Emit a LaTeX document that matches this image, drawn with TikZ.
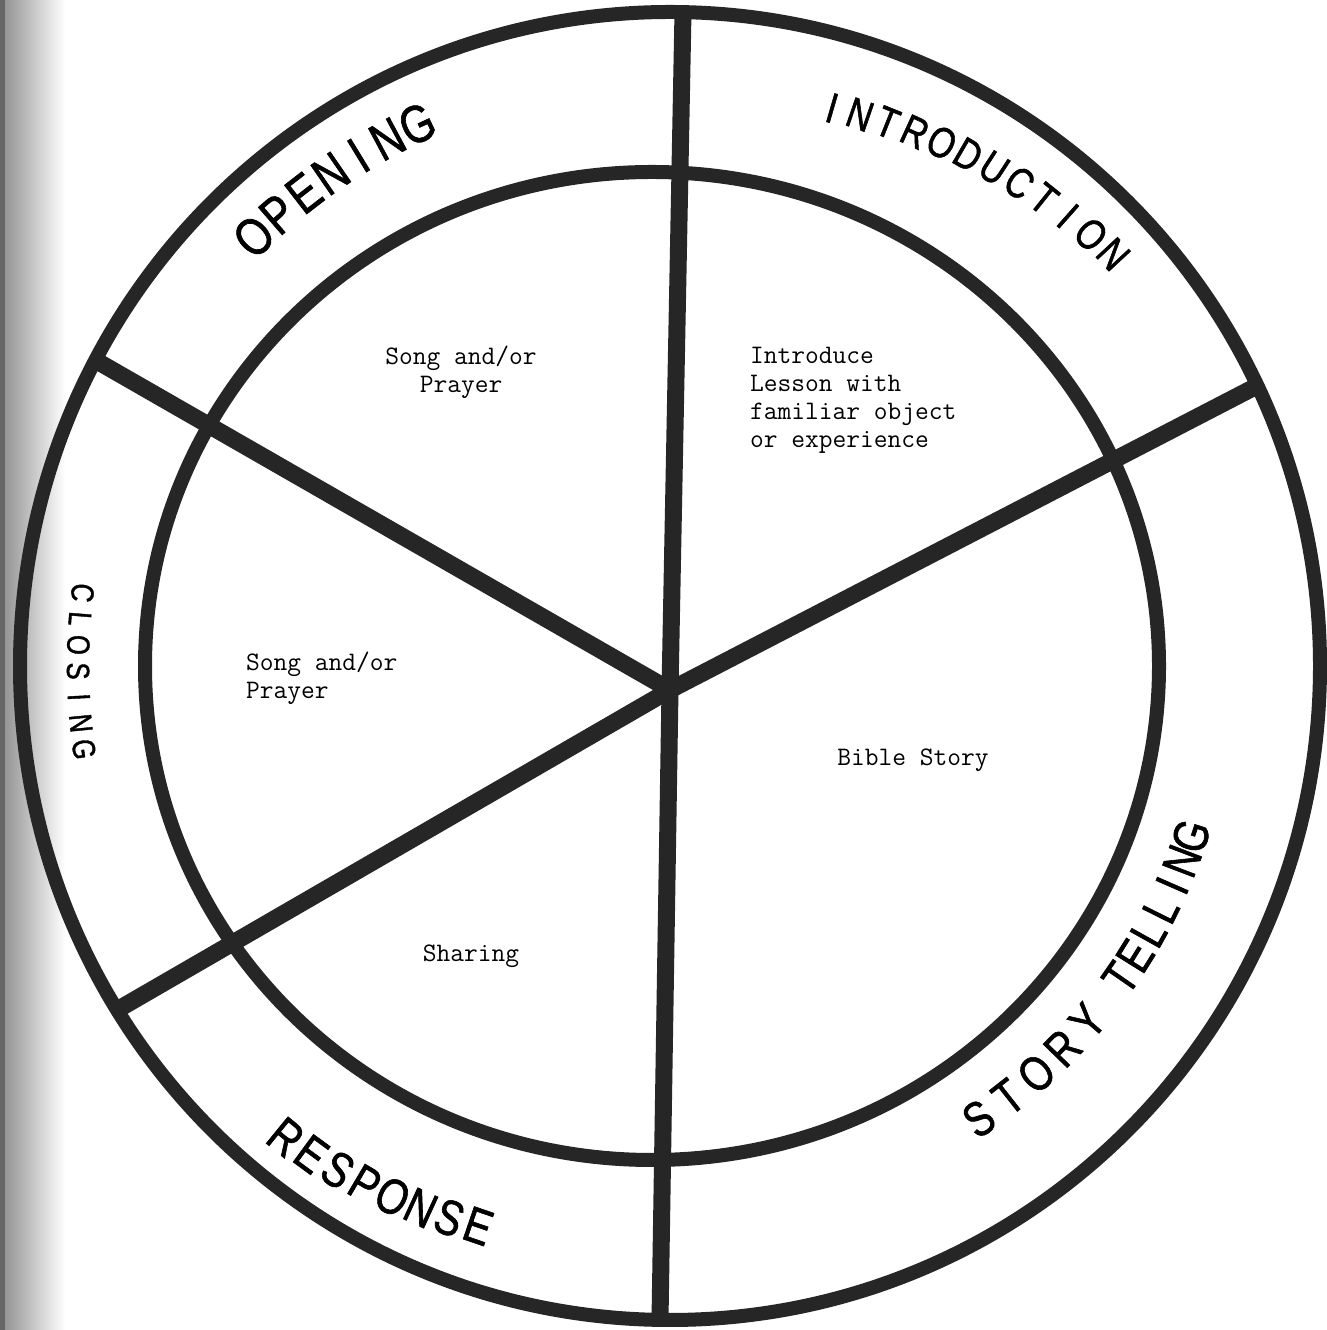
\documentclass[tikz,border=0pt]{standalone}
\usepackage{fontspec}
\newfontfamily\handfont[FakeStretch=0.8,FakeBold=1.2]{Liberation Sans}
\colorlet{ink}{black!85}

\begin{document}
\begin{tikzpicture}[
        x=1pt, y=1pt,
        rim/.style={draw=ink, line width=14pt},
        spoke/.style={draw=ink, line width=17pt},
        note/.style={font=\ttfamily\fontsize{26.7}{28}\selectfont, inner sep=0pt},
        letter/.style={inner sep=0pt},
    ]
    \useasboundingbox (0,0) rectangle (1327,1330);
    \fill[white] (0,0) rectangle (1327,1330);
    % page edge of the scan
    \shade[left color=black!45, right color=white] (0,0) rectangle (65,1330);
    \fill[black!60] (0,0) rectangle (5,1330);

    \coordinate (hub) at (670,640);
    \coordinate (mid) at (670,664);
    \coordinate (ic) at (652,664);
    \coordinate (top) at (683,1318);
    \coordinate (ur) at (1253,942);
    \coordinate (bot) at (660,10);
    \coordinate (ll) at (117,320);
    \coordinate (ul) at (95,970);

    % spokes
    \foreach \e in {top,ur,bot,ll,ul}
        \draw[spoke] (hub) -- (\e);

    % outer and inner ring
    \draw[rim] (mid) ellipse [x radius=650, y radius=654];
    \draw[rim] (ic) ellipse [x radius=507, y radius=494];

    % ring labels, one letter at a time
    \foreach \ch [count=\i] in {O,P,E,N,I,N,G} {
        \pgfmathsetmacro\ang{134.1-(\i-1)*3.18}
        \pgfmathsetmacro\rot{\ang-90}
        \node[letter, font=\handfont\fontsize{53}{53}\selectfont, rotate=\rot]
            at ([shift={(\ang:598)}]mid) {\ch};
    }
    \foreach \ch [count=\i] in {I,N,T,R,O,D,U,C,T,I,O,N} {
        \pgfmathsetmacro\ang{73.8-(\i-1)*2.81}
        \pgfmathsetmacro\rad{581+(\i-1)*24/11}
        \pgfmathsetmacro\rot{\ang-90}
        \node[letter, font=\handfont\fontsize{43}{43}\selectfont, rotate=\rot]
            at ([shift={(\ang:\rad)}]mid) {\ch};
    }
    \foreach \ch [count=\i] in {S,T,O,R,Y} {
        \pgfmathsetmacro\ang{-55.7+(\i-1)*3.83}
        \pgfmathsetmacro\rot{\ang+90}
        \node[letter, font=\handfont\fontsize{49}{49}\selectfont, rotate=\rot]
            at ([shift={(\ang:548)}]mid) {\ch};
    }
    \foreach \ch [count=\i] in {T,E,L,L,I,N,G} {
        \pgfmathsetmacro\ang{-34.7+(\i-1)*2.77}
        \pgfmathsetmacro\rot{\ang+90}
        \node[letter, font=\handfont\fontsize{49}{49}\selectfont, rotate=\rot]
            at ([shift={(\ang:548)}]mid) {\ch};
    }
    \foreach \ch [count=\i] in {R,E,S,P,O,N,S,E} {
        \pgfmathsetmacro\ang{230.8+(\i-1)*2.9}
        \pgfmathsetmacro\rad{608-(\i-1)*16/7}
        \pgfmathsetmacro\rot{\ang+90}
        \node[letter, font=\handfont\fontsize{50}{50}\selectfont, rotate=\rot]
            at ([shift={(\ang:\rad)}]mid) {\ch};
    }
    \foreach \ch [count=\i] in {C,L,O,S,I,N,G} {
        \pgfmathsetmacro\ang{172.9+(\i-1)*2.53}
        \pgfmathsetmacro\rot{\ang+90}
        \node[letter, font=\handfont\fontsize{32}{32}\selectfont, rotate=\rot]
            at ([shift={(\ang:592)}]mid) {\ch};
    }

    % sector texts
    \node[note, align=center] (song1) at (461,958) {Song and/or\\Prayer};
    \node[note, align=left, anchor=west] (intro) at (750,930)
        {Introduce\\Lesson with\\familiar object\\or experience};
    \node[note, align=left, anchor=west] (song2) at (246,652) {Song and/or\\Prayer};
    \node[note] (bible) at (913,570) {Bible Story};
    \node[note] (sharing) at (471,374) {Sharing};
\end{tikzpicture}
\end{document}
